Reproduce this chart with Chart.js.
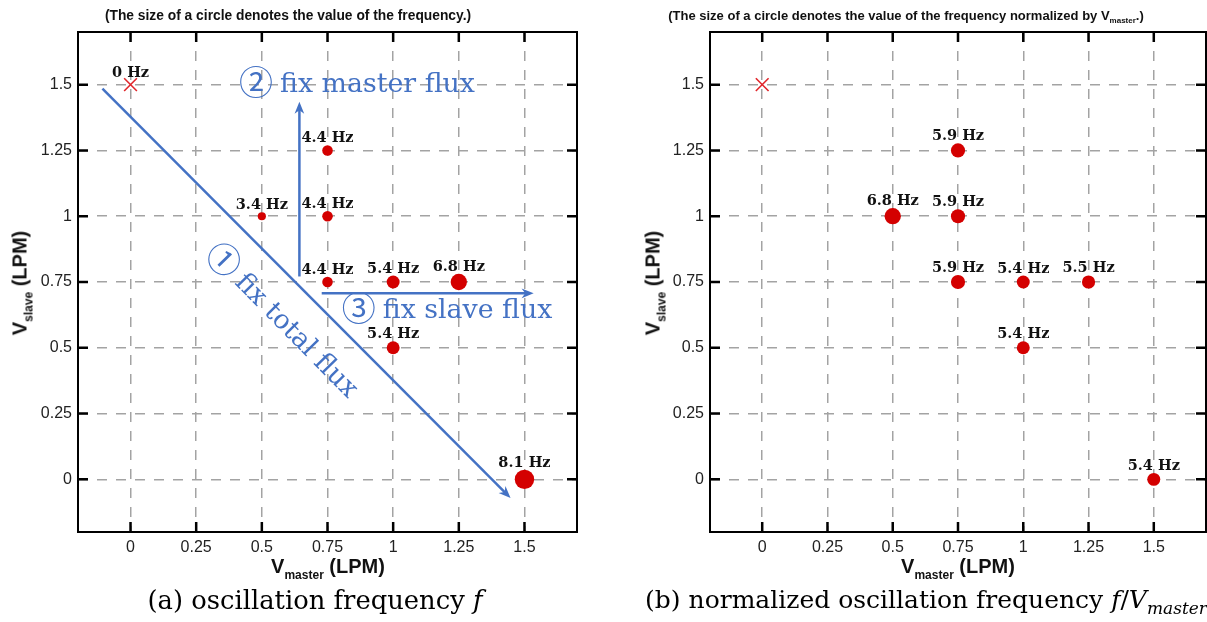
<!DOCTYPE html>
<html><head><meta charset="utf-8">
<script src="https://cdn.jsdelivr.net/npm/chart.js@4.4.0/dist/chart.umd.min.js"></script>
<style>
html,body{margin:0;padding:0;background:#fff;width:1207px;height:622px;overflow:hidden;position:relative;}
.cv{position:absolute;top:0;}
.t{position:absolute;white-space:nowrap;transform:translateX(-50%);line-height:1;}
.title{font:bold 13px "Liberation Sans",Arial,sans-serif;color:#111;top:8px;}
.title sub{font-size:8px;vertical-align:-3px;}
.ax{font:bold 20px "Liberation Sans",Arial,sans-serif;color:#111;top:555px;}
.ax sub{font-size:12px;vertical-align:-6px;}
.cap{font:25px "DejaVu Serif",serif;color:#000;top:585px;}
.cap sub{font-size:17px;vertical-align:-6px;}
.yt{position:absolute;white-space:nowrap;line-height:1;font:bold 20px "Liberation Sans",Arial,sans-serif;color:#111;transform:translate(-50%,-50%) rotate(-90deg);}
.yt sub{font-size:12px;vertical-align:-6px;}
</style></head>
<body>
<canvas id="ca" class="cv" style="left:0" width="600" height="622"></canvas>
<canvas id="cb" class="cv" style="left:632px" width="575" height="622"></canvas>
<div class="t title" style="left:288px;font-size:13.8px">(The size of a circle denotes the value of the frequency.)</div>
<div class="t title" style="left:906px">(The size of a circle denotes the value of the frequency normalized by V<sub>master</sub>.)</div>
<div class="t ax" style="left:328px">V<sub>master</sub> (LPM)</div>
<div class="t ax" style="left:958px">V<sub>master</sub> (LPM)</div>
<div class="yt" style="left:22px;top:283px">V<sub>slave</sub> (LPM)</div>
<div class="yt" style="left:655px;top:283px">V<sub>slave</sub> (LPM)</div>
<div class="t cap" style="left:315px;font-size:25.8px">(a) oscillation frequency <i>f</i></div>
<div class="t cap" style="left:926px">(b) normalized oscillation frequency <i>f</i>/<i>V<sub>master</sub></i></div>
<script>
// ---- data ----
const xTickValues = [0, 0.25, 0.5, 0.75, 1, 1.25, 1.5];
const xTickLabels = ['0', '0.25', '0.5', '0.75', '1', '1.25', '1.5'];
const yTickValues = [0, 0.25, 0.5, 0.75, 1, 1.25, 1.5];
const yTickLabels = ['0', '0.25', '0.5', '0.75', '1', '1.25', '1.5'];

// (a) oscillation frequency f
const aMaster = [0.5, 0.75, 0.75, 0.75, 1, 1.25, 1, 1.5];
const aSlave  = [1, 1.25, 1, 0.75, 0.75, 0.75, 0.5, 0];
const aFreq   = [3.4, 4.4, 4.4, 4.4, 5.4, 6.8, 5.4, 8.1];

// (b) normalized frequency f / Vmaster
const bMaster = [0.75, 0.5, 0.75, 0.75, 1, 1.25, 1, 1.5];
const bSlave  = [1.25, 1, 1, 0.75, 0.75, 0.75, 0.5, 0];
const bFreq   = [5.9, 6.8, 5.9, 5.9, 5.4, 5.5, 5.4, 5.4];

// no-oscillation point
const zeroMaster = [0];
const zeroSlave  = [1.5];
const zeroFreq   = [0];

// blue guide arrows (data coordinates: [master, slave])
const arrowTotal  = [[-0.107, 1.485], [1.447, -0.071]];
const arrowMaster = [[0.643, 0.771], [0.643, 1.435]];
const arrowSlave  = [[0.728, 0.707], [1.535, 0.707]];

const RED = '#d40000';
const BLUE = '#4472C4';

function arrow(ctx, x1, y1, x2, y2) {
  const a = Math.atan2(y2 - y1, x2 - x1);
  const L = 13;
  ctx.beginPath();
  ctx.moveTo(x1, y1);
  ctx.lineTo(x2 - 8 * Math.cos(a), y2 - 8 * Math.sin(a));
  ctx.stroke();
  ctx.beginPath();
  ctx.moveTo(x2, y2);
  ctx.lineTo(x2 - L * Math.cos(a - 0.38), y2 - L * Math.sin(a - 0.38));
  ctx.lineTo(x2 - 0.65 * L * Math.cos(a), y2 - 0.65 * L * Math.sin(a));
  ctx.lineTo(x2 - L * Math.cos(a + 0.38), y2 - L * Math.sin(a + 0.38));
  ctx.closePath();
  ctx.fill();
}

// circled digit centred at (cx, baseline-9.5); text starts at cx+24 on baseline
function guideText(ctx, num, txt, cx, baseline) {
  ctx.textAlign = 'center';
  ctx.textBaseline = 'middle';
  ctx.font = '34px "Noto Sans CJK JP", "DejaVu Sans", sans-serif';
  ctx.fillText(num, cx, baseline - 9.5);
  ctx.textAlign = 'left';
  ctx.textBaseline = 'alphabetic';
  ctx.font = '26.8px "DejaVu Serif", serif';
  ctx.fillText(txt, cx + 24, baseline);
}

const framePlugin = {
  id: 'frame',
  afterDatasetsDraw(chart, args, opts) {
    const ctx = chart.ctx, a = chart.chartArea;
    const xs = chart.scales.x, ys = chart.scales.y;
    ctx.save();
    // frame
    ctx.strokeStyle = '#000';
    ctx.lineWidth = 2;
    ctx.strokeRect(a.left, a.top, a.right - a.left, a.bottom - a.top);
    // inward ticks
    ctx.lineWidth = 2.5;
    ctx.beginPath();
    xTickValues.forEach(v => {
      const p = xs.getPixelForValue(v);
      ctx.moveTo(p, a.bottom); ctx.lineTo(p, a.bottom - 10);
      ctx.moveTo(p, a.top); ctx.lineTo(p, a.top + 10);
    });
    yTickValues.forEach(v => {
      const p = ys.getPixelForValue(v);
      ctx.moveTo(a.left, p); ctx.lineTo(a.left + 10, p);
      ctx.moveTo(a.right, p); ctx.lineTo(a.right - 10, p);
    });
    ctx.stroke();

    // annotations
    if (opts.guides) {
      ctx.strokeStyle = BLUE; ctx.fillStyle = BLUE; ctx.lineWidth = 2.5;
      [arrowTotal, arrowMaster, arrowSlave].forEach(ar => {
        arrow(ctx, xs.getPixelForValue(ar[0][0]), ys.getPixelForValue(ar[0][1]),
                   xs.getPixelForValue(ar[1][0]), ys.getPixelForValue(ar[1][1]));
      });
      guideText(ctx, '\u2461', 'fix master flux', xs.getPixelForValue(0.478), ys.getPixelForValue(1.473));
      guideText(ctx, '\u2462', 'fix slave flux', xs.getPixelForValue(0.869), ys.getPixelForValue(0.615));
      ctx.save();
      ctx.translate(xs.getPixelForValue(0.356), ys.getPixelForValue(0.836));
      ctx.rotate(0.794);
      guideText(ctx, '\u2460', 'fix total flux', 0, 9.5);
      ctx.restore();
    }

    // point labels
    ctx.fillStyle = '#111';
    ctx.font = 'bold 14.5px "DejaVu Serif", serif';
    ctx.textAlign = 'center';
    ctx.textBaseline = 'alphabetic';
    const meta = chart.getDatasetMeta(0);
    meta.data.forEach((pt, i) => {
      const r = opts.freq[i] * 1.2;
      ctx.fillText(opts.freq[i] + ' Hz', pt.x, pt.y - r - 3);
    });
    if (opts.zeroLabel) {
      const m1 = chart.getDatasetMeta(1);
      m1.data.forEach((pt, i) => {
        ctx.fillText(zeroFreq[i] + ' Hz', pt.x, pt.y - 8);
      });
    }
    ctx.restore();
  }
};

function makeChart(id, mx, sy, fq, guides, padRight) {
  return new Chart(document.getElementById(id), {
    type: 'scatter',
    data: {
      datasets: [
        {
          data: mx.map((x, i) => ({ x: x, y: sy[i] })),
          backgroundColor: RED,
          borderWidth: 0,
          pointRadius: c => fq[c.dataIndex] * 1.2,
          pointHoverRadius: c => fq[c.dataIndex] * 1.2
        },
        {
          data: zeroMaster.map((x, i) => ({ x: x, y: zeroSlave[i] })),
          pointStyle: 'crossRot',
          pointRadius: 9,
          pointHoverRadius: 9,
          borderColor: '#e0262b',
          borderWidth: 1.6
        }
      ]
    },
    options: {
      responsive: false,
      animation: false,
      devicePixelRatio: 1,
      events: [],
      layout: { autoPadding: false, padding: { top: 32, right: padRight, left: 0, bottom: 0 } },
      plugins: {
        legend: { display: false },
        tooltip: { enabled: false },
        frame: { guides: guides, freq: fq, zeroLabel: guides }
      },
      scales: {
        x: {
          type: 'linear', min: -0.2, max: 1.7,
          afterBuildTicks: s => { s.ticks = xTickValues.map(v => ({ value: v })); },
          afterFit: s => { s.height = 90; s.paddingLeft = 0; s.paddingRight = 0; },
          ticks: {
            callback: (v, i) => xTickLabels[i],
            font: { family: 'Liberation Sans', size: 16 },
            color: '#222', padding: 6, autoSkip: false, maxRotation: 0
          },
          grid: { color: '#a3a3a3', lineWidth: 1.5, drawTicks: false },
          border: { display: false, dash: [10, 9] }
        },
        y: {
          type: 'linear', min: -0.2, max: 1.7,
          afterBuildTicks: s => { s.ticks = yTickValues.map(v => ({ value: v })); },
          afterFit: s => { s.width = 78; s.paddingTop = 0; s.paddingBottom = 0; },
          ticks: {
            callback: (v, i) => yTickLabels[i],
            font: { family: 'Liberation Sans', size: 16 },
            color: '#222', padding: 6, autoSkip: false
          },
          grid: { color: '#a3a3a3', lineWidth: 1.5, drawTicks: false },
          border: { display: false, dash: [10, 9] }
        }
      }
    },
    plugins: [framePlugin]
  });
}

makeChart('ca', aMaster, aSlave, aFreq, true, 23);
makeChart('cb', bMaster, bSlave, bFreq, false, 1);
</script>
</body></html>
